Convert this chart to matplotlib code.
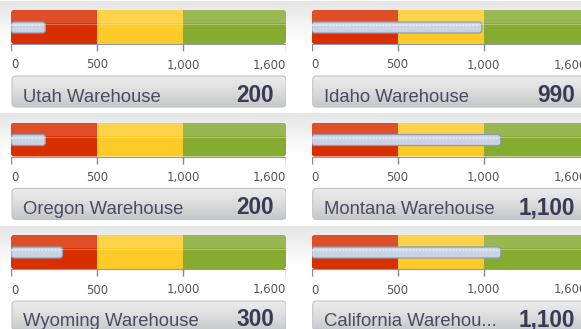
import numpy as np
import matplotlib.pyplot as plt
from matplotlib.patches import Rectangle, FancyBboxPatch
from matplotlib.colors import LinearSegmentedColormap

# warehouse stock gauges, 2 columns x 3 rows
names = ["Utah Warehouse", "Idaho Warehouse",
         "Oregon Warehouse", "Montana Warehouse",
         "Wyoming Warehouse", "California Warehou..."]
values = [200, 990, 200, 1100, 300, 1100]
value_labels = ["200", "990", "200", "1,100", "300", "1,100"]

band_edges = [0, 500, 1000, 1600]
band_colors = ["#d82e00", "#fdcb28", "#86ab30"]
tick_values = [0, 500, 1000, 1600]
tick_labels = ["0", "500", "1,000", "1,600"]

W, H = 581, 329
col_left = [11, 311.7]      # px, left edge of each gauge column
row_top = [10, 122.5, 235]  # px, top of the coloured band per row
GAUGE_W = 275               # px spanned by 0..1600
K = 1600 / GAUGE_W          # data units per pixel along x

fig = plt.figure(figsize=(W / 100, H / 100), dpi=100)
fig.patch.set_facecolor("white")

# soft grey header strip behind every row
bg = fig.add_axes([0, 0, 1, 1], zorder=-1)
bg.set_xlim(0, W)
bg.set_ylim(H, 0)
bg.axis("off")
strip = LinearSegmentedColormap.from_list("strip", ["#e6e6e6", "#ffffff"])
grad = np.linspace(0, 1, 64).reshape(-1, 1)
for top in row_top:
    bg.imshow(grad, extent=(0, W, top + 32, top - 9), cmap=strip,
              aspect="auto", interpolation="bicubic")
bg.set_xlim(0, W)
bg.set_ylim(H, 0)

box_cmap = LinearSegmentedColormap.from_list("box", ["#ececec", "#dcdcdd", "#c6c7ca"])


def draw_gauge(x0, top, name, value, value_label):
    ax = fig.add_axes([x0 / W, 1 - (top + 100) / H, GAUGE_W / W, 110 / H])
    ax.axis("off")

    # coloured quality bands, rounded at the ends
    outline = FancyBboxPatch((0, 0), 1600, 34,
                             boxstyle=f"round,pad=0,rounding_size={3 * K}",
                             mutation_aspect=1 / K, fc="none", ec="none")
    ax.add_patch(outline)
    for lo, hi, c in zip(band_edges[:-1], band_edges[1:], band_colors):
        r = Rectangle((lo, 0), hi - lo, 34, fc=c, ec="none")
        ax.add_patch(r)
        r.set_clip_path(outline)
    gloss = Rectangle((0, 0), 1600, 13, fc="white", ec="none", alpha=0.16)
    ax.add_patch(gloss)
    gloss.set_clip_path(outline)
    hl = ax.plot([0, 1600], [14, 14], color="white", lw=0.8, alpha=0.3)[0]
    hl.set_clip_path(outline)

    # the measured value
    bar = FancyBboxPatch((0, 12), value, 11,
                         boxstyle=f"round,pad=0,rounding_size={3 * K}",
                         mutation_aspect=1 / K, fc="#c8d3e3", ec="#8c9ab4", lw=0.9)
    ax.add_patch(bar)
    ax.plot([0, value - 3 * K], [15, 15], color="white", lw=0.8,
            alpha=0.7, dashes=(1.5, 1.5))

    # axis and ticks
    ax.plot([0, 1600], [34, 34], color="#8d99ad", lw=0.8)
    ax.vlines(tick_values, 34, 41, color="#7d8aa2", lw=1)
    for tv, tl in zip(tick_values, tick_labels):
        ha = "left" if tv == tick_values[0] else ("right" if tv == tick_values[-1] else "center")
        ax.text(tv, 55, tl, ha=ha, va="center", fontsize=8.4,
                color="#555555", family="DejaVu Sans")

    # name plate
    plate = FancyBboxPatch((K, 66), 1600 - K, 31,
                           boxstyle=f"round,pad=0,rounding_size={4 * K}",
                           mutation_aspect=1 / K, fc="none", ec="#c2c3c6", lw=0.8)
    ax.add_patch(plate)
    im = ax.imshow(np.linspace(0, 1, 64).reshape(-1, 1), extent=(K, 1600, 97, 66),
                   cmap=box_cmap, aspect="auto", interpolation="bicubic")
    im.set_clip_path(plate)
    ax.text(12 * K, 91.5, name, ha="left", va="baseline", fontsize=13.3,
            color="#4a4a62", family="Liberation Sans")
    ax.text(263 * K, 91.5, value_label, ha="right", va="baseline", fontsize=16.3,
            fontweight="bold", color="#3a3a55", family="Liberation Sans")

    ax.set_xlim(0, 1600)
    ax.set_ylim(100, -10)


for i, (name, v, vl) in enumerate(zip(names, values, value_labels)):
    r, c = divmod(i, 2)
    draw_gauge(col_left[c], row_top[r], name, v, vl)

fig.savefig("out.png", dpi=100)
